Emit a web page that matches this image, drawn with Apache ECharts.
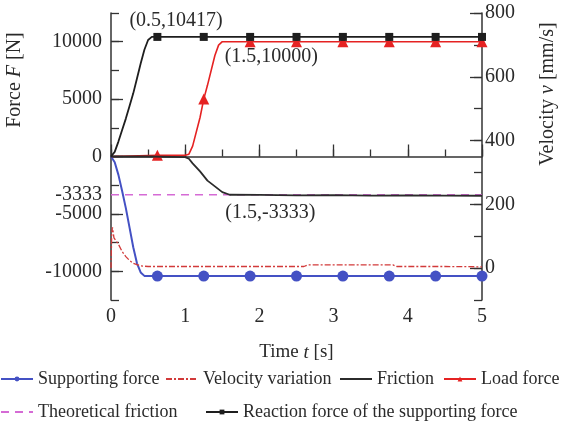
<!DOCTYPE html>
<html><head><meta charset="utf-8">
<script src="https://cdn.jsdelivr.net/npm/echarts@6/dist/echarts.min.js"></script>
<style>html,body{margin:0;padding:0;background:#fff}#c{width:563px;height:428px}</style>
</head><body><div id="c"></div>
<script>
// ---- tick labels ----
const timeLabels = [0, 1, 2, 3, 4, 5];
const forceLabels = [10000, 5000, 0, -3333, -5000, -10000];
const forceMajorTicks = [-10000, -5000, 0, 5000, 10000];
const velocityLabels = [0, 200, 400, 600, 800];
const markerTimes = [0.625, 1.25, 1.875, 2.5, 3.125, 3.75, 4.375, 5];

// ---- series (time [s], value) ----
const supportT = [0, 0.05, 0.1, 0.15, 0.2, 0.25, 0.3, 0.35, 0.4, 0.45, 0.5, 0.625, 1.25, 1.875, 2.5, 3.125, 3.75, 4.375, 5];
const supportV = [0, -500, -1600, -3000, -4500, -6200, -7900, -9300, -10100, -10400, -10417, -10417, -10417, -10417, -10417, -10417, -10417, -10417, -10417];

const velocityT = [0, 0.01, 0.02, 0.04, 0.06, 0.1, 0.15, 0.2, 0.25, 0.3, 0.4, 0.5, 1.0, 1.5, 2.0, 2.6, 2.65, 3.2, 3.8, 3.85, 4.5, 5];
const velocityV = [0, 110, 128, 95, 88, 75, 52, 36, 24, 15, 7, 5, 5, 5, 5, 5, 10, 10, 10, 5, 5, 4];

const frictionT = [0, 0.5, 1.0, 1.05, 1.1, 1.2, 1.3, 1.4, 1.5, 1.6, 2.0, 2.5, 3.0, 3.5, 4.0, 4.5, 5];
const frictionV = [0, 0, -50, -200, -600, -1300, -2100, -2600, -3100, -3330, -3350, -3380, -3360, -3400, -3380, -3400, -3420];

const loadT = [0, 0.625, 1.0, 1.05, 1.1, 1.2, 1.25, 1.3, 1.4, 1.45, 1.5, 1.875, 2.5, 3.125, 3.75, 4.375, 5];
const loadV = [0, 100, 100, 200, 900, 3400, 5000, 6200, 8800, 9700, 10000, 10000, 10000, 10000, 10000, 10000, 10000];

const theoT = [0, 5];
const theoV = [-3333, -3333];

const reactionT = [0, 0.05, 0.1, 0.15, 0.2, 0.25, 0.3, 0.35, 0.4, 0.45, 0.5, 0.55, 0.625, 1.25, 1.875, 2.5, 3.125, 3.75, 4.375, 5];
const reactionV = [0, 400, 1300, 2300, 3300, 4400, 5500, 6800, 8100, 9300, 10150, 10417, 10417, 10417, 10417, 10417, 10417, 10417, 10417, 10417];

const FONT = "'Liberation Serif','Times New Roman',serif";
const TXT = '#2a2a2a';

function build(ts, vs, marked) {
  return ts.map((t, i) => {
    const item = { value: [t, vs[i]] };
    if (!marked || markerTimes.indexOf(t) < 0) item.symbol = 'none';
    return item;
  });
}
const plain = v => String(v);
const axisLine = { show: true, lineStyle: { color: '#333', width: 1.5 } };
const richI = { i: { fontStyle: 'italic', fontSize: 20, fontFamily: FONT, color: TXT } };

const chart = echarts.init(document.getElementById('c'), null, { renderer: 'canvas' });
chart.setOption({
  animation: false,
  backgroundColor: '#fff',
  textStyle: { fontFamily: FONT },
  grid: { left: 111, right: 81, top: 13, bottom: 128 },
  xAxis: [{
    type: 'value', min: 0, max: 5, interval: 0.5, position: 'bottom',
    axisLine: axisLine,
    axisTick: { show: true, inside: true, length: 7, lineStyle: { color: '#333', width: 1.3 } },
    axisLabel: { customValues: timeLabels, formatter: plain, fontSize: 20, fontFamily: FONT, color: TXT, margin: 7 },
    splitLine: { show: false },
    name: 'Time {i|t} [s]', nameLocation: 'middle', nameGap: 43,
    nameTextStyle: { fontSize: 19, fontFamily: FONT, color: TXT, rich: { i: { fontStyle: 'italic', fontSize: 19, fontFamily: FONT, color: TXT } } }
  }, {
    type: 'value', min: 0, max: 5, position: 'bottom',
    axisLine: { show: false },
    axisTick: { show: true, inside: true, length: 12, customValues: timeLabels, lineStyle: { color: '#333', width: 1.3 } },
    axisLabel: { show: false }, splitLine: { show: false }
  }],
  yAxis: [{
    type: 'value', min: -12500, max: 12500, interval: 2500, position: 'left',
    axisLine: axisLine,
    axisTick: { show: true, inside: true, length: 8, lineStyle: { color: '#333', width: 1.3 } },
    axisLabel: { customValues: forceLabels, formatter: plain, interval: 0, fontSize: 20, fontFamily: FONT, color: TXT, margin: 9 },
    splitLine: { show: false }
  }, {
    type: 'value', min: -12500, max: 12500, position: 'left',
    axisLine: { show: false },
    axisTick: { show: true, inside: true, length: 12, customValues: forceMajorTicks, lineStyle: { color: '#333', width: 1.3 } },
    axisLabel: { show: false }, splitLine: { show: false }
  }, {
    type: 'value', min: -100, max: 800, interval: 100, position: 'right',
    axisLine: axisLine,
    axisTick: { show: true, inside: true, length: 8, lineStyle: { color: '#333', width: 1.3 } },
    axisLabel: { customValues: velocityLabels, formatter: plain, interval: 0, fontSize: 20, fontFamily: FONT, color: TXT, margin: 3 },
    splitLine: { show: false }
  }, {
    type: 'value', min: -100, max: 800, position: 'right',
    axisLine: { show: false },
    axisTick: { show: true, inside: true, length: 12, customValues: velocityLabels, lineStyle: { color: '#333', width: 1.3 } },
    axisLabel: { show: false }, splitLine: { show: false }
  }],
  graphic: [{
    type: 'text', x: 15, y: 80, rotation: Math.PI / 2,
    style: { text: 'Force {i|F} [N]', align: 'center', verticalAlign: 'middle', fontSize: 20, fontFamily: FONT, fill: TXT, rich: richI }
  }, {
    type: 'text', x: 548, y: 94, rotation: Math.PI / 2,
    style: { text: 'Velocity {i|v} [mm/s]', align: 'center', verticalAlign: 'middle', fontSize: 20, fontFamily: FONT, fill: TXT, rich: richI }
  }],
  legend: [
    { data: ['Supporting force'], left: 0, top: 370 },
    { data: ['Velocity variation'], left: 165, top: 370, itemStyle: { opacity: 0 } },
    { data: ['Friction'], left: 339, top: 370, itemStyle: { opacity: 0 } },
    { data: ['Load force'], left: 443, top: 370 },
    { data: ['Theoretical friction'], left: 0, top: 403, itemStyle: { opacity: 0 } },
    { data: ['Reaction force of the supporting force'], left: 205, top: 403 }
  ].map(l => Object.assign({
    padding: 0, itemWidth: 32, itemHeight: 6, itemGap: 0,
    textStyle: { fontSize: 18, fontFamily: FONT, color: TXT }
  }, l)),
  series: [{
    name: 'Theoretical friction', type: 'line', xAxisIndex: 0, yAxisIndex: 0,
    data: build(theoT, theoV, false), symbol: 'none', z: 2,
    lineStyle: { color: '#d56bd5', width: 1.6, type: [8, 6] }, itemStyle: { color: '#d56bd5' }
  }, {
    name: 'Supporting force', type: 'line', xAxisIndex: 0, yAxisIndex: 0,
    data: build(supportT, supportV, true), symbol: 'circle', symbolSize: 11, z: 3,
    lineStyle: { color: '#4451c4', width: 2 }, itemStyle: { color: '#4451c4' }
  }, {
    name: 'Velocity variation', type: 'line', xAxisIndex: 0, yAxisIndex: 2,
    data: build(velocityT, velocityV, false), symbol: 'none', z: 3,
    lineStyle: { color: '#d23a3a', width: 1.3, type: [6, 2, 2, 2] }, itemStyle: { color: '#d23a3a' }
  }, {
    name: 'Load force', type: 'line', xAxisIndex: 0, yAxisIndex: 0,
    data: build(loadT, loadV, true), symbol: 'triangle', symbolSize: 11, z: 4,
    lineStyle: { color: '#e52222', width: 1.6 }, itemStyle: { color: '#e52222' },
    markPoint: { silent: true, symbol: 'circle', symbolSize: 0, data: [{
      coord: [1.5, 10000], value: 0,
      label: { show: true, formatter: '(1.5,10000)', position: 'inside', offset: [49, 15], fontSize: 20, fontFamily: FONT, color: TXT }
    }] }
  }, {
    name: 'Friction', type: 'line', xAxisIndex: 0, yAxisIndex: 0,
    data: build(frictionT, frictionV, false), symbol: 'none', z: 5,
    lineStyle: { color: '#2b2b2b', width: 1.8 }, itemStyle: { color: '#2b2b2b' },
    markPoint: { silent: true, symbol: 'circle', symbolSize: 0, data: [{
      coord: [1.5, -3333], value: 0,
      label: { show: true, formatter: '(1.5,-3333)', position: 'inside', offset: [48, 18], fontSize: 20, fontFamily: FONT, color: TXT }
    }] }
  }, {
    name: 'Reaction force of the supporting force', type: 'line', xAxisIndex: 0, yAxisIndex: 0,
    data: build(reactionT, reactionV, true), symbol: 'rect', symbolSize: 8, z: 6,
    lineStyle: { color: '#1e1e1e', width: 1.8 }, itemStyle: { color: '#1e1e1e' },
    markPoint: { silent: true, symbol: 'circle', symbolSize: 0, data: [{
      coord: [0.5, 10417], value: 0,
      label: { show: true, formatter: '(0.5,10417)', position: 'inside', offset: [28, -16], fontSize: 20, fontFamily: FONT, color: TXT }
    }] }
  }]
});
</script>
</body></html>
